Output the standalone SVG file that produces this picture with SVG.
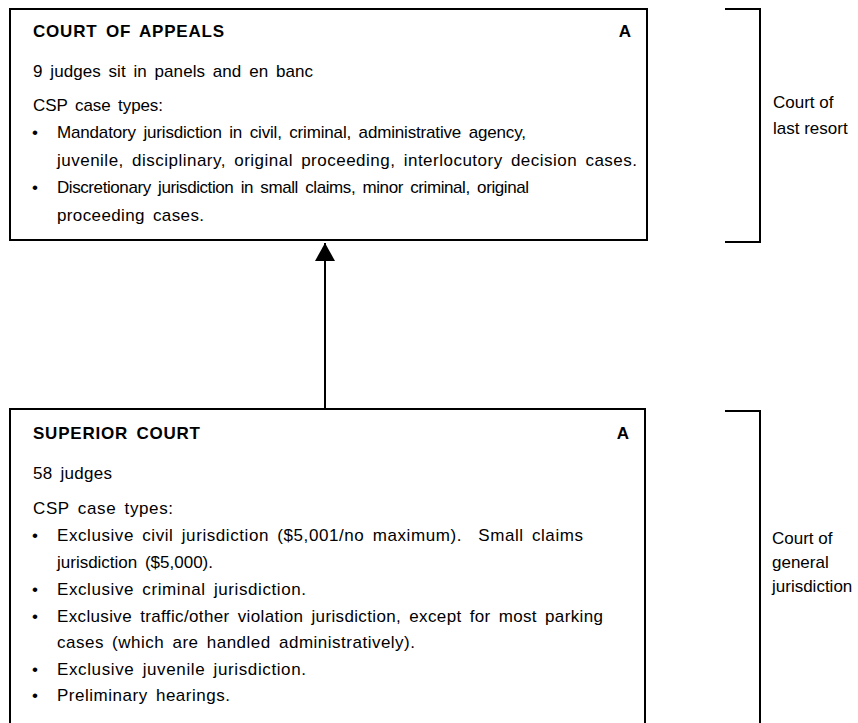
<svg xmlns="http://www.w3.org/2000/svg" width="858" height="723" viewBox="0 0 858 723">
<style>
  .box { fill: #fff; stroke: #000; stroke-width: 2; }
  .br { fill: none; stroke: #000; stroke-width: 2; }
  text { font-family: "Liberation Sans", Arial, Helvetica, sans-serif; font-size: 17px; fill: #000; word-spacing: 3px; }
  .h { font-weight: bold; }
  .lbl { font-size: 17px; word-spacing: 0; }
</style>
<defs>
  <marker id="ah" markerWidth="20" markerHeight="20" refX="18" refY="10" orient="auto" markerUnits="userSpaceOnUse">
    <path d="M0,0 L18,10 L0,20 Z" fill="#000"/>
  </marker>
</defs>
<rect width="858" height="723" fill="#fff"/>

<g id="court-of-appeals">
  <rect class="box" x="10" y="9" width="637" height="231"/>
  <text class="h" x="33" y="37" textLength="191" lengthAdjust="spacing">COURT OF APPEALS</text>
  <text class="h" x="631" y="37" text-anchor="end">A</text>
  <text x="33" y="77" textLength="280" lengthAdjust="spacing">9 judges sit in panels and en banc</text>
  <text x="33" y="111" textLength="130" lengthAdjust="spacing">CSP case types:</text>
  <text x="32" y="138">•</text>
  <text x="57" y="138" textLength="469" lengthAdjust="spacing">Mandatory jurisdiction in civil, criminal, administrative agency,</text>
  <text x="57" y="166" textLength="580" lengthAdjust="spacing">juvenile, disciplinary, original proceeding, interlocutory decision cases.</text>
  <text x="32" y="193">•</text>
  <text x="57" y="193" textLength="472" lengthAdjust="spacing">Discretionary jurisdiction in small claims, minor criminal, original</text>
  <text x="57" y="221" textLength="147" lengthAdjust="spacing">proceeding cases.</text>
</g>

<g id="superior-court">
  <rect class="box" x="10" y="409" width="635" height="330"/>
  <text class="h" x="33" y="439" textLength="167" lengthAdjust="spacing">SUPERIOR COURT</text>
  <text class="h" x="629" y="439" text-anchor="end">A</text>
  <text x="33" y="479" textLength="79" lengthAdjust="spacing">58 judges</text>
  <text x="33" y="514" textLength="140" lengthAdjust="spacing">CSP case types:</text>
  <text x="32" y="541">•</text>
  <text x="57" y="541" textLength="526" lengthAdjust="spacing">Exclusive civil jurisdiction ($5,001/no maximum). <tspan dx="8">Small claims</tspan></text>
  <text x="57" y="568" textLength="156" lengthAdjust="spacing">jurisdiction ($5,000).</text>
  <text x="32" y="595">•</text>
  <text x="57" y="595" textLength="249" lengthAdjust="spacing">Exclusive criminal jurisdiction.</text>
  <text x="32" y="622">•</text>
  <text x="57" y="622" textLength="546" lengthAdjust="spacing">Exclusive traffic/other violation jurisdiction, except for most parking</text>
  <text x="57" y="648" textLength="358" lengthAdjust="spacing">cases (which are handled administratively).</text>
  <text x="32" y="675">•</text>
  <text x="57" y="675" textLength="249" lengthAdjust="spacing">Exclusive juvenile jurisdiction.</text>
  <text x="32" y="701">•</text>
  <text x="57" y="701" textLength="173" lengthAdjust="spacing">Preliminary hearings.</text>
</g>

<g id="connectors">
  <line x1="325" y1="409" x2="325" y2="243" stroke="#000" stroke-width="2" marker-end="url(#ah)"/>
</g>

<g id="label-last-resort">
  <path class="br" d="M725,9 H760 V242 H725"/>
  <text class="lbl" x="773" y="108">Court of</text>
  <text class="lbl" x="773" y="134">last resort</text>
</g>

<g id="label-general">
  <path class="br" d="M725,411 H760 V730"/>
  <text class="lbl" x="772" y="544">Court of</text>
  <text class="lbl" x="772" y="568">general</text>
  <text class="lbl" x="772" y="592">jurisdiction</text>
</g>
</svg>
